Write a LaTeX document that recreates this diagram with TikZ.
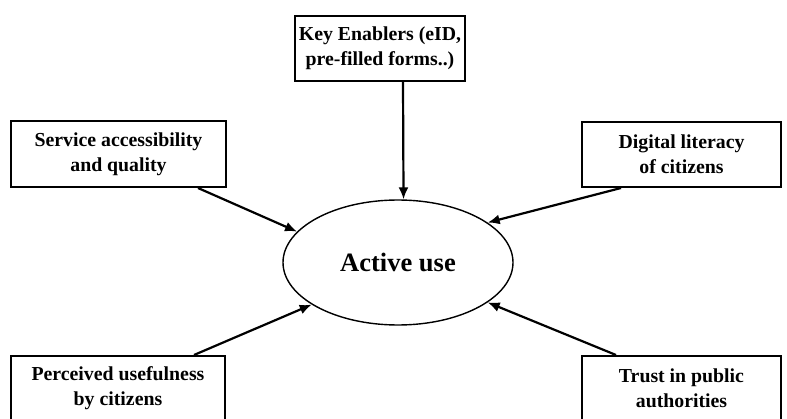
\documentclass[tikz,border=0pt]{standalone}
\usepackage{fontspec}
\setmainfont{Liberation Serif}
\usepackage{tikz}
\usetikzlibrary{arrows.meta}
\usetikzlibrary{shapes.geometric}

\tikzset{
  factor/.style={draw, line width=2pt, align=center, inner sep=0pt,
    font=\bfseries\fontsize{19.8}{25}\selectfont},
  arr/.style={-{Latex[length=12pt,width=10pt]}, line width=2.2pt}
}

\begin{document}
\begin{tikzpicture}[x=1pt,y=1pt]
  \useasboundingbox (0,0) rectangle (787,418);

\node[draw, ellipse, line width=1.4pt, minimum width=230pt, minimum height=125pt,
  font=\bfseries\fontsize{26.5}{30}\selectfont] (use) at (398,155.5) {Active use};

\node[factor, minimum width=170pt, minimum height=65pt] (enab) at (380,369.5) {Key Enablers (eID,\\pre-filled forms..)};

\node[factor, minimum width=215pt, minimum height=66pt] (serv) at (118.5,264) {Service accessibility\\and quality};

\node[factor, minimum width=199pt, minimum height=65pt] (digi) at (681.5,263.5) {Digital literacy\\of citizens};

\node[factor, minimum width=214pt, minimum height=65pt] (perc) at (118,29.5) {Perceived usefulness\\by citizens};

\node[factor, minimum width=199pt, minimum height=65pt] (trust) at (681.5,29.5) {Trust in public\\authorities};

\draw[arr] ([xshift=23pt]enab.south) -- (use.85);
\draw[arr] ([xshift=-29pt]serv.south east) -- (use.163);
\draw[arr] ([xshift=40pt]digi.south west) -- (use.24);
\draw[arr] ([xshift=-32pt]perc.north east) -- (use.206);
\draw[arr] ([xshift=35pt]trust.north west) -- (use.-24);

\end{tikzpicture}
\end{document}
